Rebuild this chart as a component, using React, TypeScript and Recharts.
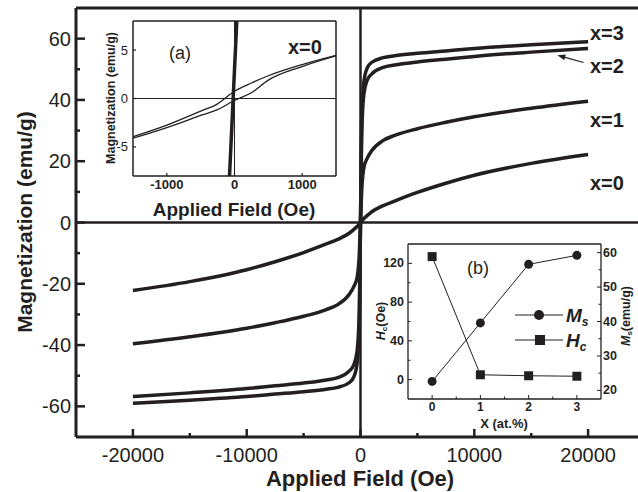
import React from "react";
import { LineChart, Line, XAxis, YAxis, ReferenceLine } from "recharts";

const INK = "#231f20";
const FONT = "'Liberation Sans', Arial, Helvetica, sans-serif";

// main M-H curves (field in Oe, magnetization in emu/g)
const FIELD = [-20000, -15000, -10000, -7500, -5000, -3000, -2000, -1000, -600, -300, -100, 0, 100, 300, 600, 1000, 2000, 3000, 5000, 7500, 10000, 15000, 20000];
const M_X0 = [-22.2, -19.3, -15.4, -12.8, -9.8, -7.0, -5.5, -3.5, -2.3, -1.3, -0.5, 0, 0.5, 1.3, 2.3, 3.5, 5.5, 7.0, 9.8, 12.8, 15.4, 19.3, 22.2];
const M_X1 = [-39.6, -37.3, -34.5, -32.7, -30.6, -28.4, -26.8, -23.5, -21, -18, -10, 0, 10, 18, 21, 23.5, 26.8, 28.4, 30.6, 32.7, 34.5, 37.3, 39.6];
const M_X2 = [-56.8, -55.6, -54.2, -53.3, -52.4, -51.4, -50.6, -48.5, -46.5, -42, -28, 0, 28, 42, 46.5, 48.5, 50.6, 51.4, 52.4, 53.3, 54.2, 55.6, 56.8];
const M_X3 = [-59, -58, -56.8, -56.0, -55.2, -54.4, -53.8, -52.3, -50.5, -46, -33, 0, 33, 46, 50.5, 52.3, 53.8, 54.4, 55.2, 56.0, 56.8, 58, 59];

const MAIN_X_TICKS = [-20000, -15000, -10000, -5000, 0, 5000, 10000, 15000, 20000];
const MAIN_X_LABELS = [-20000, -10000, 0, 10000, 20000];
const MAIN_Y_TICKS = [-60, -50, -40, -30, -20, -10, 0, 10, 20, 30, 40, 50, 60];
const MAIN_Y_LABELS = [-60, -40, -20, 0, 20, 40, 60];

// inset (a): low field loop of x=0 and the steep branch
const INSET_H = [-1500, -1000, -500, -250, 0, 250, 500, 1000, 1500];
const INSET_DESC = [-3.95, -2.75, -1.3, -0.55, 0.75, 1.6, 2.35, 3.5, 4.45];
const INSET_ASC = [-4.1, -3.0, -1.75, -1.15, -0.2, 0.6, 1.9, 3.3, 4.4];
const STEEP_H = [-90, -20, 40];
const STEEP_M = [-10.4, 0, 8.9];

// inset (b): coercivity and saturation magnetization vs x
const X_AT = [0, 1, 2, 3];
const HC = [127, 5, 4, 3.5];
const MS = [22.6, 39.6, 56.6, 59.2];

const mainData = FIELD.map((h, i) => ({ h, x0: M_X0[i], x1: M_X1[i], x2: M_X2[i], x3: M_X3[i] }));
const descData = INSET_H.map((h, i) => ({ h, m: INSET_DESC[i] }));
const ascData = INSET_H.map((h, i) => ({ h, m: INSET_ASC[i] }));
const steepData = STEEP_H.map((h, i) => ({ h, m: STEEP_M[i] }));
const insetBData = X_AT.map((x, i) => ({ x, hc: HC[i], ms: MS[i] }));

type TickCfg = {
  side: "left" | "right" | "bottom";
  labels: number[];
  len: number;
  minorLen: number;
  gap: number;
  size: number;
  bold?: boolean;
  sw?: number;
};

// inward tick marks, labels only on the major values
function axisTick(cfg: TickCfg) {
  return (props: any) => {
    const { x, y, payload } = props;
    const v = payload.value;
    const major = cfg.labels.includes(v);
    const len = major ? cfg.len : cfg.minorLen;
    const sw = cfg.sw ?? 2;
    const txt = {
      fill: INK,
      fontFamily: FONT,
      fontSize: cfg.size,
      fontWeight: cfg.bold ? 700 : 400,
      dominantBaseline: "central" as const,
    };
    if (cfg.side === "left") {
      return (
        <g>
          <line x1={x} y1={y} x2={x + len} y2={y} stroke={INK} strokeWidth={sw} />
          {major && <text x={x - cfg.gap} y={y} textAnchor="end" {...txt}>{v}</text>}
        </g>
      );
    }
    if (cfg.side === "right") {
      return (
        <g>
          <line x1={x} y1={y} x2={x - len} y2={y} stroke={INK} strokeWidth={sw} />
          {major && <text x={x + cfg.gap} y={y} textAnchor="start" {...txt}>{v}</text>}
        </g>
      );
    }
    return (
      <g>
        <line x1={x} y1={y} x2={x} y2={y - len} stroke={INK} strokeWidth={sw} />
        {major && <text x={x} y={y + cfg.gap} textAnchor="middle" {...txt}>{v}</text>}
      </g>
    );
  };
}

const arrowShape = (p: any) => {
  const { x1, y1, x2, y2 } = p;
  const a = Math.atan2(y2 - y1, x2 - x1);
  const L = 8;
  const W = 3;
  const bx = x2 - L * Math.cos(a);
  const by = y2 - L * Math.sin(a);
  const nx = -Math.sin(a) * W;
  const ny = Math.cos(a) * W;
  return (
    <g>
      <line x1={x1} y1={y1} x2={bx} y2={by} stroke={INK} strokeWidth={1.2} />
      <polygon points={`${x2},${y2} ${bx + nx},${by + ny} ${bx - nx},${by - ny}`} fill={INK} />
    </g>
  );
};

const layer: React.CSSProperties = { position: "absolute", left: 0, top: 0 };

function MainChart() {
  return (
    <div style={layer}>
      <LineChart width={660} height={492} data={mainData} margin={{ top: 8, right: 15, bottom: 0, left: 0 }}>
        <XAxis
          dataKey="h"
          type="number"
          domain={[-25000, 25000]}
          ticks={MAIN_X_TICKS}
          interval={0}
          tickSize={0}
          tickMargin={0}
          height={55}
          axisLine={{ stroke: INK, strokeWidth: 3 }}
          tickLine={false}
          tick={axisTick({ side: "bottom", labels: MAIN_X_LABELS, len: 8, minorLen: 4, gap: 18, size: 20, sw: 2.5 })}
        />
        <YAxis
          type="number"
          domain={[-70, 70]}
          ticks={MAIN_Y_TICKS}
          interval={0}
          tickSize={0}
          tickMargin={0}
          width={76}
          axisLine={{ stroke: INK, strokeWidth: 3 }}
          tickLine={false}
          tick={axisTick({ side: "left", labels: MAIN_Y_LABELS, len: 9, minorLen: 4, gap: 5, size: 20, sw: 2.5 })}
        />
        <ReferenceLine y={70} stroke={INK} strokeWidth={3} />
        <ReferenceLine x={0} stroke={INK} strokeWidth={2.5} />
        <ReferenceLine y={0} stroke={INK} strokeWidth={2.5} />
        <ReferenceLine
          segment={[{ x: 19600, y: 52.2 }, { x: 17300, y: 54.6 }]}
          shape={arrowShape}
        />
        <Line dataKey="x0" type="monotone" stroke={INK} strokeWidth={3.5} dot={false} isAnimationActive={false} />
        <Line dataKey="x1" type="monotone" stroke={INK} strokeWidth={3.5} dot={false} isAnimationActive={false} />
        <Line dataKey="x2" type="monotone" stroke={INK} strokeWidth={3.5} dot={false} isAnimationActive={false} />
        <Line dataKey="x3" type="monotone" stroke={INK} strokeWidth={3.5} dot={false} isAnimationActive={false} />
      </LineChart>
    </div>
  );
}

function InsetA() {
  return (
    <div style={layer}>
      <LineChart width={638} height={492} margin={{ top: 21, right: 302, bottom: 0, left: 0 }}>
        <XAxis
          dataKey="h"
          type="number"
          domain={[-1500, 1500]}
          allowDataOverflow
          ticks={[-1000, 0, 1000]}
          interval={0}
          tickSize={0}
          tickMargin={0}
          height={316}
          axisLine={{ stroke: INK, strokeWidth: 1.5 }}
          tickLine={false}
          tick={axisTick({ side: "bottom", labels: [-1000, 0, 1000], len: 3, minorLen: 2, gap: 8, size: 13, bold: true, sw: 1.2 })}
        />
        <YAxis
          dataKey="m"
          type="number"
          domain={[-8, 8]}
          allowDataOverflow
          ticks={[-5, 0, 5]}
          interval={0}
          tickSize={0}
          tickMargin={0}
          width={133}
          axisLine={{ stroke: INK, strokeWidth: 1.5 }}
          tickLine={false}
          tick={axisTick({ side: "left", labels: [-5, 0, 5], len: 3, minorLen: 2, gap: 5, size: 13, sw: 1.2 })}
        />
        <ReferenceLine y={8} stroke={INK} strokeWidth={1.5} />
        <ReferenceLine x={1500} stroke={INK} strokeWidth={1.5} />
        <ReferenceLine x={0} stroke={INK} strokeWidth={1} />
        <ReferenceLine y={0} stroke={INK} strokeWidth={1} />
        <Line data={descData} dataKey="m" type="monotone" stroke={INK} strokeWidth={1.3} dot={false} isAnimationActive={false} />
        <Line data={ascData} dataKey="m" type="monotone" stroke={INK} strokeWidth={1.3} dot={false} isAnimationActive={false} />
        <Line data={steepData} dataKey="m" type="linear" stroke={INK} strokeWidth={3.5} dot={false} isAnimationActive={false} />
      </LineChart>
    </div>
  );
}

const circleDot = (p: any) => <circle key={`c${p.index}`} cx={p.cx} cy={p.cy} r={4.5} fill={INK} />;
const squareDot = (p: any) => <rect key={`s${p.index}`} x={p.cx - 4.5} y={p.cy - 4.5} width={9} height={9} fill={INK} />;

function InsetB() {
  return (
    <div style={layer}>
      <LineChart width={638} height={492} data={insetBData} margin={{ top: 244, right: 0, bottom: 0, left: 0 }}>
        <XAxis
          dataKey="x"
          type="number"
          domain={[-0.5, 3.5]}
          ticks={[0, 0.5, 1, 1.5, 2, 2.5, 3]}
          interval={0}
          tickSize={0}
          tickMargin={0}
          height={93}
          axisLine={{ stroke: INK, strokeWidth: 1.3 }}
          tickLine={false}
          tick={axisTick({ side: "bottom", labels: [0, 1, 2, 3], len: 4, minorLen: 2.5, gap: 8, size: 12, bold: true, sw: 1 })}
        />
        <YAxis
          yAxisId="hc"
          type="number"
          domain={[-20, 140]}
          ticks={[0, 20, 40, 60, 80, 100, 120]}
          interval={0}
          tickSize={0}
          tickMargin={0}
          width={408}
          axisLine={{ stroke: INK, strokeWidth: 1.3 }}
          tickLine={false}
          tick={axisTick({ side: "left", labels: [0, 40, 80, 120], len: 4, minorLen: 2.5, gap: 4, size: 12.5, bold: true, sw: 1 })}
        />
        <YAxis
          yAxisId="ms"
          orientation="right"
          type="number"
          domain={[17.5, 62.5]}
          ticks={[20, 25, 30, 35, 40, 45, 50, 55, 60]}
          interval={0}
          tickSize={0}
          tickMargin={0}
          width={37}
          axisLine={{ stroke: INK, strokeWidth: 1.3 }}
          tickLine={false}
          tick={axisTick({ side: "right", labels: [20, 30, 40, 50, 60], len: 4, minorLen: 2.5, gap: 2, size: 12.5, bold: true, sw: 1 })}
        />
        <ReferenceLine yAxisId="hc" y={140} stroke={INK} strokeWidth={1.3} />
        <Line yAxisId="ms" dataKey="ms" type="linear" stroke={INK} strokeWidth={1} dot={circleDot} isAnimationActive={false} />
        <Line yAxisId="hc" dataKey="hc" type="linear" stroke={INK} strokeWidth={1} dot={squareDot} isAnimationActive={false} />
      </LineChart>
    </div>
  );
}

function Annotations() {
  const bold = { fontFamily: FONT, fontWeight: 700, fill: INK };
  const reg = { fontFamily: FONT, fontWeight: 400, fill: INK };
  return (
    <svg width={638} height={492} style={{ ...layer, pointerEvents: "none" }}>
      <text transform="translate(24,222) rotate(-90)" textAnchor="middle" dominantBaseline="central" fontSize={21} {...bold}>
        Magnetization (emu/g)
      </text>
      <text x={360} y={478} textAnchor="middle" dominantBaseline="central" fontSize={22} {...bold}>
        Applied Field (Oe)
      </text>
      <text x={590} y={33} dominantBaseline="central" fontSize={20} {...bold}>x=3</text>
      <text x={590} y={66} dominantBaseline="central" fontSize={20} {...bold}>x=2</text>
      <text x={590} y={120} dominantBaseline="central" fontSize={20} {...bold}>x=1</text>
      <text x={590} y={183} dominantBaseline="central" fontSize={20} {...bold}>x=0</text>

      {/* inset (a) */}
      <text x={180} y={53} textAnchor="middle" dominantBaseline="central" fontSize={18} {...reg}>(a)</text>
      <text x={288} y={47} dominantBaseline="central" fontSize={20} {...bold}>x=0</text>
      <text transform="translate(111,98) rotate(-90)" textAnchor="middle" dominantBaseline="central" fontSize={12.5} {...bold}>
        Magnetization (emu/g)
      </text>
      <text x={234} y={209} textAnchor="middle" dominantBaseline="central" fontSize={19} {...bold}>
        Applied Field (Oe)
      </text>

      {/* inset (b) */}
      <text x={478} y={268} textAnchor="middle" dominantBaseline="central" fontSize={18} {...reg}>(b)</text>
      <line x1={515} y1={315} x2={563} y2={315} stroke={INK} strokeWidth={1} />
      <circle cx={539} cy={315} r={5} fill={INK} />
      <text x={566} y={315} dominantBaseline="central" fontSize={19} fontStyle="italic" {...bold}>
        M<tspan fontSize={12} dy={7}>s</tspan>
      </text>
      <line x1={515} y1={340} x2={563} y2={340} stroke={INK} strokeWidth={1} />
      <rect x={535} y={335} width={10} height={10} fill={INK} />
      <text x={566} y={340} dominantBaseline="central" fontSize={19} fontStyle="italic" {...bold}>
        H<tspan fontSize={12} dy={7}>c</tspan>
      </text>
      <text transform="translate(381,321) rotate(-90)" textAnchor="middle" dominantBaseline="central" fontSize={12.5} {...bold}>
        <tspan fontStyle="italic">H</tspan>
        <tspan fontSize={8} dy={3}>c</tspan>
        <tspan dy={-3}>(Oe)</tspan>
      </text>
      <text transform="translate(626,316) rotate(-90)" textAnchor="middle" dominantBaseline="central" fontSize={12.5} {...bold}>
        <tspan fontStyle="italic">M</tspan>
        <tspan fontSize={8} dy={3}>s</tspan>
        <tspan dy={-3}>(emu/g)</tspan>
      </text>
      <text x={504} y={423} textAnchor="middle" dominantBaseline="central" fontSize={13} {...bold}>X (at.%)</text>
    </svg>
  );
}

export default function App() {
  return (
    <div
      style={{
        position: "absolute",
        left: 0,
        top: 0,
        width: 638,
        height: 492,
        overflow: "hidden",
        background: "#fff",
      }}
    >
      <MainChart />
      <InsetA />
      <InsetB />
      <Annotations />
    </div>
  );
}
